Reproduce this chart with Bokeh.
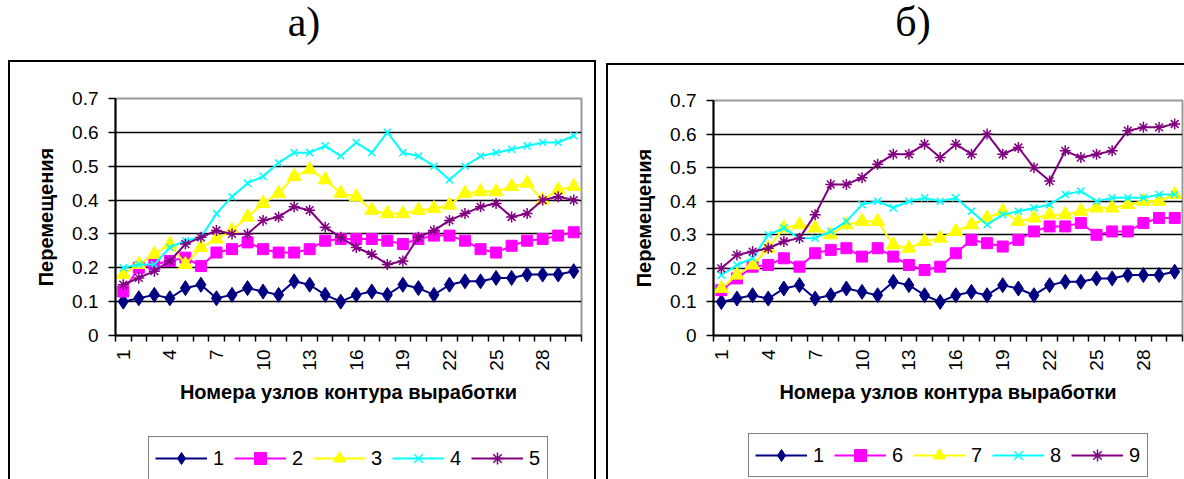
import numpy as np
from bokeh.plotting import figure
from bokeh.layouts import row, column
from bokeh.models import (Range1d, FixedTicker, NumeralTickFormatter, Legend,
                          LegendItem, Div)
from bokeh.embed import file_html
from bokeh.resources import INLINE

# --- data -------------------------------------------------------------
nodes = [1, 2, 3, 4, 5, 6, 7, 8, 9, 10, 11, 12, 13, 14, 15,
         16, 17, 18, 19, 20, 21, 22, 23, 24, 25, 26, 27, 28, 29, 30]
x_tick_labels = [1, 4, 7, 10, 13, 16, 19, 22, 25, 28]
y_ticks = [0, 0.1, 0.2, 0.3, 0.4, 0.5, 0.6, 0.7]
grid_levels = [0.1, 0.2, 0.3, 0.4, 0.5, 0.6]

s1 = [0.10, 0.11, 0.12, 0.11, 0.14, 0.15, 0.11, 0.12, 0.14, 0.13,
      0.12, 0.16, 0.15, 0.12, 0.10, 0.12, 0.13, 0.12, 0.15, 0.14,
      0.12, 0.15, 0.16, 0.16, 0.17, 0.17, 0.18, 0.18, 0.18, 0.19]
s2 = [0.13, 0.20, 0.21, 0.22, 0.23, 0.205, 0.245, 0.255, 0.275, 0.255,
      0.245, 0.245, 0.255, 0.28, 0.285, 0.285, 0.285, 0.28, 0.27, 0.285,
      0.295, 0.295, 0.28, 0.255, 0.245, 0.265, 0.28, 0.285, 0.295, 0.305]
s3 = [0.18, 0.21, 0.24, 0.27, 0.21, 0.26, 0.285, 0.31, 0.35, 0.39,
      0.42, 0.47, 0.49, 0.46, 0.42, 0.41, 0.37, 0.36, 0.36, 0.37,
      0.375, 0.385, 0.42, 0.425, 0.425, 0.44, 0.45, 0.40, 0.43, 0.44]
s4 = [0.20, 0.21, 0.21, 0.26, 0.28, 0.29, 0.36, 0.41, 0.45, 0.47,
      0.51, 0.54, 0.54, 0.56, 0.53, 0.57, 0.54, 0.60, 0.54, 0.53,
      0.50, 0.46, 0.50, 0.53, 0.54, 0.55, 0.56, 0.57, 0.57, 0.59]
s5 = [0.15, 0.17, 0.19, 0.22, 0.27, 0.29, 0.31, 0.30, 0.30, 0.34,
      0.35, 0.38, 0.37, 0.32, 0.29, 0.26, 0.24, 0.21, 0.22, 0.29,
      0.31, 0.34, 0.36, 0.38, 0.39, 0.35, 0.36, 0.40, 0.41, 0.40]
s6 = [0.135, 0.17, 0.205, 0.21, 0.23, 0.205, 0.245, 0.255, 0.26, 0.235,
      0.26, 0.235, 0.21, 0.195, 0.205, 0.245, 0.285, 0.275, 0.265, 0.285,
      0.31, 0.325, 0.325, 0.335, 0.30, 0.31, 0.31, 0.335, 0.35, 0.35]
s7 = [0.14, 0.18, 0.21, 0.26, 0.32, 0.33, 0.32, 0.30, 0.33, 0.34,
      0.34, 0.27, 0.26, 0.28, 0.29, 0.31, 0.33, 0.35, 0.37, 0.34,
      0.35, 0.36, 0.36, 0.37, 0.38, 0.38, 0.39, 0.40, 0.40, 0.42]
s8 = [0.18, 0.21, 0.23, 0.30, 0.32, 0.29, 0.29, 0.31, 0.34, 0.39,
      0.40, 0.38, 0.40, 0.41, 0.40, 0.41, 0.37, 0.33, 0.36, 0.37,
      0.38, 0.39, 0.42, 0.43, 0.40, 0.41, 0.41, 0.41, 0.42, 0.42]
s9 = [0.20, 0.24, 0.25, 0.26, 0.28, 0.29, 0.36, 0.45, 0.45, 0.47,
      0.51, 0.54, 0.54, 0.57, 0.53, 0.57, 0.54, 0.60, 0.54, 0.56,
      0.50, 0.46, 0.55, 0.53, 0.54, 0.55, 0.61, 0.62, 0.62, 0.63]

series_a = [("1", s1), ("2", s2), ("3", s3), ("4", s4), ("5", s5)]
series_b = [("1", s1), ("6", s6), ("7", s7), ("8", s8), ("9", s9)]

# marker styles, in drawing order
STYLES = [
    dict(color="#000080", marker="diamond", size=15, lw=1),
    dict(color="#FF00FF", marker="square", size=11, lw=1),
    dict(color="#FFFF00", marker="triangle", size=14, lw=1),
    dict(color="#00FFFF", marker="x", size=10, lw=1.5),
    dict(color="#800080", marker="asterisk", size=11, lw=1.5),
]

SANS = "Liberation Sans"


def caption(text, width, height, dx):
    html = ('<div style="font-family: \'Liberation Serif\', serif; font-size: 42px; '
            'line-height: 44px; text-align: center; color: black; '
            f'position: relative; left: {dx}px; width: {width}px;">'
            f'{text}</div>')
    return Div(text=html, width=width, height=height, margin=0)


def chart(width, height, f_left, f_right, f_top, f_bottom, series):
    p = figure(width=width, height=height, output_backend="svg",
               toolbar_location=None,
               x_range=Range1d(0.5, 30.5), y_range=Range1d(0, 0.7),
               min_border_left=f_left, min_border_right=width - f_right,
               min_border_top=f_top, min_border_bottom=height - f_bottom)
    p.background_fill_color = "white"
    p.border_fill_color = "white"
    p.outline_line_color = "#999999"
    p.outline_line_width = 2

    # grid
    p.xgrid.visible = False
    p.ygrid.ticker = FixedTicker(ticks=grid_levels)
    p.ygrid.grid_line_color = "black"
    p.ygrid.grid_line_width = 1.5

    # x axis: ticks between nodes, labels every third node
    xa = p.xaxis[0]
    xa.ticker = FixedTicker(ticks=x_tick_labels,
                            minor_ticks=[n - 0.5 for n in nodes] + [nodes[-1] + 0.5])
    xa.major_tick_out = 0
    xa.major_tick_in = 0
    xa.minor_tick_out = 6
    xa.minor_tick_in = 0
    xa.minor_tick_line_color = "black"
    xa.minor_tick_line_width = 1.5
    xa.axis_line_color = "black"
    xa.axis_line_width = 2
    xa.major_label_orientation = np.pi / 2
    xa.major_label_standoff = 8
    xa.major_label_text_font = SANS
    xa.major_label_text_font_size = "19px"
    xa.major_label_text_color = "black"
    xa.axis_label = "Номера узлов контура выработки"
    xa.axis_label_text_font = SANS
    xa.axis_label_text_font_size = "20px"
    xa.axis_label_text_font_style = "bold"
    xa.axis_label_text_color = "black"
    xa.axis_label_standoff = 7

    # y axis
    ya = p.yaxis[0]
    ya.ticker = FixedTicker(ticks=y_ticks)
    ya.formatter = NumeralTickFormatter(format="0.[0]")
    ya.major_tick_out = 7
    ya.major_tick_in = 0
    ya.major_tick_line_color = "black"
    ya.major_tick_line_width = 1.5
    ya.minor_tick_line_color = None
    ya.axis_line_color = "black"
    ya.axis_line_width = 2
    ya.major_label_standoff = 10
    ya.major_label_text_font = SANS
    ya.major_label_text_font_size = "19px"
    ya.major_label_text_color = "black"
    ya.axis_label = "Перемещения"
    ya.axis_label_text_font = SANS
    ya.axis_label_text_font_size = "20px"
    ya.axis_label_text_font_style = "bold"
    ya.axis_label_text_color = "black"
    ya.axis_label_standoff = 12

    for (name, vals), st in zip(series, STYLES):
        p.line(nodes, vals, line_color=st["color"], line_width=2)
        p.scatter(nodes, vals, marker=st["marker"], size=st["size"],
                  fill_color=st["color"], line_color=st["color"],
                  line_width=st["lw"])
    return p


def legend_strip(width, height, series, loc):
    # a strip below the chart that carries its horizontal legend; the series
    # are drawn here too, but below its visible range, so only the keys show
    lg = figure(width=width, height=height, output_backend="svg",
                toolbar_location=None, x_axis_location=None,
                y_axis_location=None, x_range=Range1d(0.5, 30.5),
                y_range=Range1d(5, 6), min_border=0)
    lg.grid.visible = False
    lg.outline_line_color = None
    lg.background_fill_color = "white"
    lg.border_fill_color = "white"
    items = []
    for (name, vals), st in zip(series, STYLES):
        ln = lg.line(nodes, vals, line_color=st["color"], line_width=2)
        mk = lg.scatter(nodes, vals, marker=st["marker"], size=st["size"],
                        fill_color=st["color"], line_color=st["color"],
                        line_width=st["lw"])
        items.append(LegendItem(label=name, renderers=[ln, mk]))
    legend = Legend(items=items, orientation="horizontal", location=loc,
                    glyph_width=52, glyph_height=30, label_standoff=6,
                    label_width=12, spacing=9, padding=6, margin=0,
                    border_line_color="black", border_line_width=1.5,
                    background_fill_color="white", background_fill_alpha=1,
                    label_text_font=SANS, label_text_font_size="20px",
                    label_text_color="black")
    lg.add_layout(legend)
    return lg


BOX = {"box-shadow": "0 0 0 2px black"}

left_box = column(chart(584, 368, 105, 571, 36, 273, series_a),
                  legend_strip(584, 49, series_a, (33, -1)),
                  margin=(0, 0, 0, 10), styles=BOX)
right_box = column(chart(576, 365, 105, 574, 35, 270, series_b),
                   legend_strip(576, 49, series_b, (35, 2)),
                   margin=(0, 0, 0, 8), styles=BOX)

left_half = column(caption("а)", 600, 62, 4), left_box)
right_half = column(caption("б)", 584, 65, 21), right_box)

page = row(left_half, right_half)
open("out.html", "w").write(file_html(page, INLINE))
